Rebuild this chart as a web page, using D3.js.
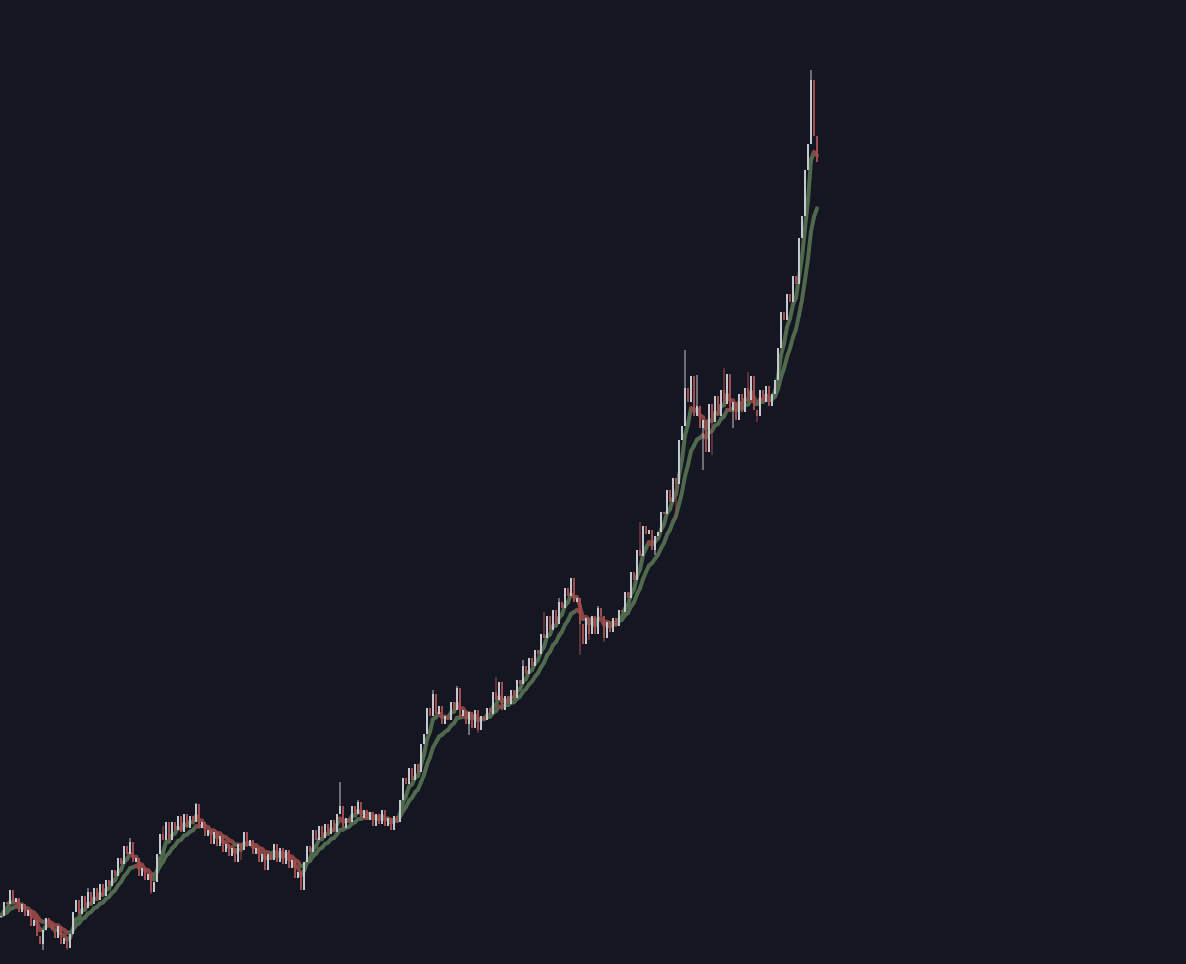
<!DOCTYPE html>
<html>
<head>
<meta charset="utf-8">
<script src="https://cdn.jsdelivr.net/npm/d3@7"></script>
<style>
  html, body { margin: 0; padding: 0; background: #141722; overflow: hidden; }
  #chart { width: 1186px; height: 964px; }
</style>
</head>
<body>
<div id="chart"></div>
<script>
// closing prices, one per session
const closes = [
  84, 98, 96, 110, 98, 102, 88, 96, 84, 90, 74, 80, 64, 56, 70, 82, 76, 70, 62, 74, 56, 62, 52, 66,
  88, 100, 86, 104, 92, 108, 96, 112, 100, 116, 104, 120, 114, 130, 124, 142, 136, 154, 146, 158,
  138, 142, 124, 132, 120, 126, 108, 118,
  146, 166, 160, 178, 160, 178, 170, 184, 168, 186, 172, 184, 178, 196, 172,
  178, 164, 170, 156, 168, 154, 164, 148, 156, 144, 152, 138, 156, 150, 168, 154, 160, 146, 152,
  138, 146, 130, 146, 140, 156, 138, 152, 136, 150, 132, 140, 122, 128, 110,
  138, 154, 148, 170, 160, 174, 162, 176, 166, 180, 168, 186, 194, 172, 182, 178, 194, 186, 198,
  182, 190, 180, 188, 174, 186, 176, 190, 174, 182, 170, 184, 178,
  200, 222, 216, 232, 220, 236, 228, 256, 266, 292, 284, 306, 286, 294,
  276, 284, 280, 298, 290, 312, 284, 290, 276, 288, 272, 290, 270, 284, 280, 292, 286, 308, 300,
  318, 290, 304, 296, 310, 302, 320, 316,
  334, 326, 342, 334, 350, 346, 366, 362, 384, 370, 390, 376, 398, 392, 412, 404, 422,
  398, 402, 376, 356, 382, 366, 384, 366, 392, 384, 362, 378, 368, 382, 374, 390,
  388, 408, 402, 428, 420, 450, 444, 474, 466, 470, 450, 464, 468, 488, 486, 510, 498, 522, 516,
  560, 574,
  612, 598, 624, 584, 594, 572, 580, 548, 596, 578, 604, 584, 610, 596, 626, 590, 598, 580, 606,
  588, 612, 600, 624, 590, 584, 610, 598, 614, 594, 606, 620,
  652, 688, 680, 706, 698, 724, 716, 762, 784, 830, 856, 920, 864, 838
];

// isolated wick extremes: [session index, price]
const wickHighs = [
  [3, 110], [29, 112], [43, 162], [54, 174], [65, 197], [113, 218], [119, 200], [144, 310],
  [152, 314], [165, 323], [172, 318], [174, 340], [181, 388], [186, 402], [190, 422], [199, 394],
  [213, 478], [228, 650], [232, 625], [241, 632], [249, 628], [250, 616], [270, 930]
];
const wickLows = [
  [14, 50], [22, 50], [50, 106], [80, 140], [89, 138], [100, 110], [156, 265], [159, 267],
  [193, 345], [196, 360], [201, 358], [218, 445], [225, 480], [234, 530], [237, 545],
  [244, 572], [252, 578]
];

const maPeriods = [5, 12];

const bgColor = "#141722";
const upColor = "#c3c7cf";
const downColor = "#a34a4a";
const maUpColor = "#51694d";
const maDownColor = "#8c4444";

const width = 1186;
const height = 964;

const svg = d3
  .select("#chart")
  .append("svg")
  .attr("width", width)
  .attr("height", height)
  .style("display", "block");

svg.append("rect").attr("width", width).attr("height", height).attr("fill", bgColor);

const n = closes.length;
const xScale = d3.scaleLinear().domain([0, n - 1]).range([1, 817]);
const yScale = d3.scaleLinear().domain([36, 1000]).range([964, 0]);

// exponential moving averages of the closes
function ema(values, period) {
  const k = 2 / (period + 1);
  const out = [];
  values.forEach((v, i) => {
    out.push(i === 0 ? v : out[i - 1] + k * (v - out[i - 1]));
  });
  return out;
}

const candles = closes.map((c, i) => ({
  i,
  open: i === 0 ? c : closes[i - 1],
  close: c
}));

const barW = 2;

// moving averages, each segment coloured by its slope
maPeriods.forEach((p) => {
  const ma = ema(closes, p);
  const segs = d3.pairs(ma.map((v, i) => [i, v]));
  svg
    .append("g")
    .selectAll("line")
    .data(segs)
    .join("line")
    .attr("x1", (d) => xScale(d[0][0]))
    .attr("y1", (d) => yScale(d[0][1]))
    .attr("x2", (d) => xScale(d[1][0]))
    .attr("y2", (d) => yScale(d[1][1]))
    .attr("stroke", (d) => (d[1][1] >= d[0][1] ? maUpColor : maDownColor))
    .attr("stroke-width", 4)
    .attr("stroke-linecap", "round");
});

svg
  .append("g")
  .selectAll("line")
  .data(wickHighs)
  .join("line")
  .attr("x1", (d) => xScale(d[0]))
  .attr("x2", (d) => xScale(d[0]))
  .attr("y1", (d) => yScale(Math.max(candles[d[0]].open, candles[d[0]].close)))
  .attr("y2", (d) => yScale(d[1]))
  .attr("stroke", (d) => (candles[d[0]].close >= candles[d[0]].open ? upColor : downColor))
  .attr("stroke-width", 1);

svg
  .append("g")
  .selectAll("line")
  .data(wickLows)
  .join("line")
  .attr("x1", (d) => xScale(d[0]))
  .attr("x2", (d) => xScale(d[0]))
  .attr("y1", (d) => yScale(Math.min(candles[d[0]].open, candles[d[0]].close)))
  .attr("y2", (d) => yScale(d[1]))
  .attr("stroke", (d) => (candles[d[0]].close >= candles[d[0]].open ? upColor : downColor))
  .attr("stroke-width", 1);

svg
  .append("g")
  .selectAll("rect")
  .data(candles)
  .join("rect")
  .attr("x", (d) => xScale(d.i) - barW / 2)
  .attr("y", (d) => yScale(Math.max(d.open, d.close)))
  .attr("width", barW)
  .attr("height", (d) => Math.max(1, Math.abs(yScale(d.open) - yScale(d.close))))
  .attr("fill", (d) => (d.close >= d.open ? upColor : downColor));
</script>
</body>
</html>
